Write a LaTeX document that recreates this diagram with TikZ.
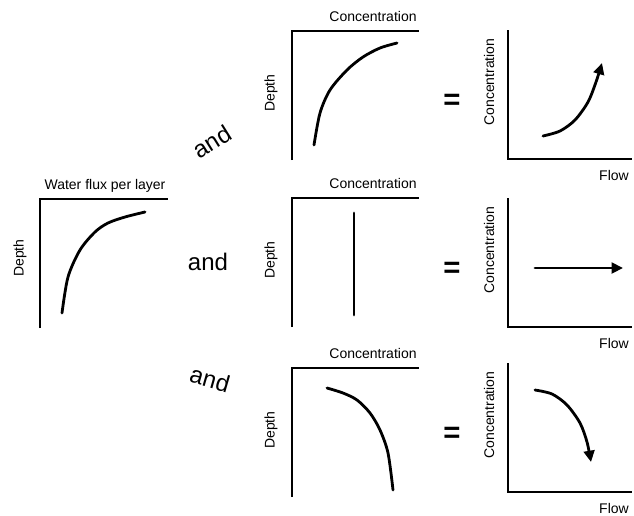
\documentclass[tikz,border=0pt]{standalone}
\usepackage{fontspec}
\setmainfont{Liberation Sans}
\usetikzlibrary{arrows.meta}

\tikzset{
  axisline/.style={line width=1.3pt},
  curve/.style={line width=2.1pt, line cap=round},
  tipcurve/.style={curve, -{Triangle[length=8.5pt,width=8pt]}},
  lbl/.style={font=\fontsize{10.5}{12}\selectfont, inner sep=0pt},
  andlbl/.style={font=\fontsize{18}{20}\selectfont, inner sep=0pt},
  eqlbl/.style={font=\fontsize{22}{24}\selectfont\bfseries, inner sep=0pt}
}

\begin{document}
\begin{tikzpicture}[x=0.75pt, y=-0.75pt]

\useasboundingbox (0,0) rectangle (634,515);

% Left panel: water flux
\draw[axisline] (40,328) -- (40,199) -- (168,199);
\node[lbl] (fluxlbl) at (105,186) {Water flux per layer};
\node[lbl, rotate=90] (fluxdepth) at (20,258) {Depth};
\draw[curve] plot[smooth] coordinates {(62,313) (68,277) (80,250) (95,232) (108,223) (125,217) (145,212)};

% Middle panels: concentration vs depth
\foreach \top/\nm in {31/a, 198/b, 368/c} {
  \draw[axisline] (292,\top+129) -- (292,\top) -- (419,\top);
  \node[lbl] (conc\nm) at (373,\top-15) {Concentration};
  \node[lbl, rotate=90] (depth\nm) at (271,\top+62) {Depth};
}

\draw[curve] plot[smooth] coordinates {(314,145) (320,113) (330,90) (347,70) (363,57) (380,48) (397,43)};
\draw[curve] (354,213) -- (354,315);
\draw[curve] plot[smooth] coordinates {(327,388) (343,393) (357,400) (370,413) (380,430) (388,453) (393,490)};

% The "and" words
\node[andlbl, rotate=32] (anda) at (212,142) {and};
\node[andlbl] (andb) at (208,262) {and};
\node[andlbl, rotate=-16] (andc) at (210,379) {and};

% Right panels: concentration vs flow
\foreach \top/\nm in {30/a, 198/b, 363/c} {
  \draw[axisline] (508,\top) -- (508,\top+129) -- (632,\top+129);
  \node[eqlbl] (eq\nm) at (452,\top+72) {=};
  \node[lbl, rotate=90] (fconc\nm) at (489,\top+52) {Concentration};
  \node[lbl] (flow\nm) at (614,\top+145) {Flow};
}

\draw[tipcurve] plot[smooth] coordinates {(543,136) (560,131) (575,120) (588,102) (596,82) (602,63)};
\draw[tipcurve] (535,268) -- (623,268);
\draw[tipcurve] plot[smooth] coordinates {(535,390) (552,394) (567,405) (580,423) (587,442) (591,462)};

\end{tikzpicture}
\end{document}
